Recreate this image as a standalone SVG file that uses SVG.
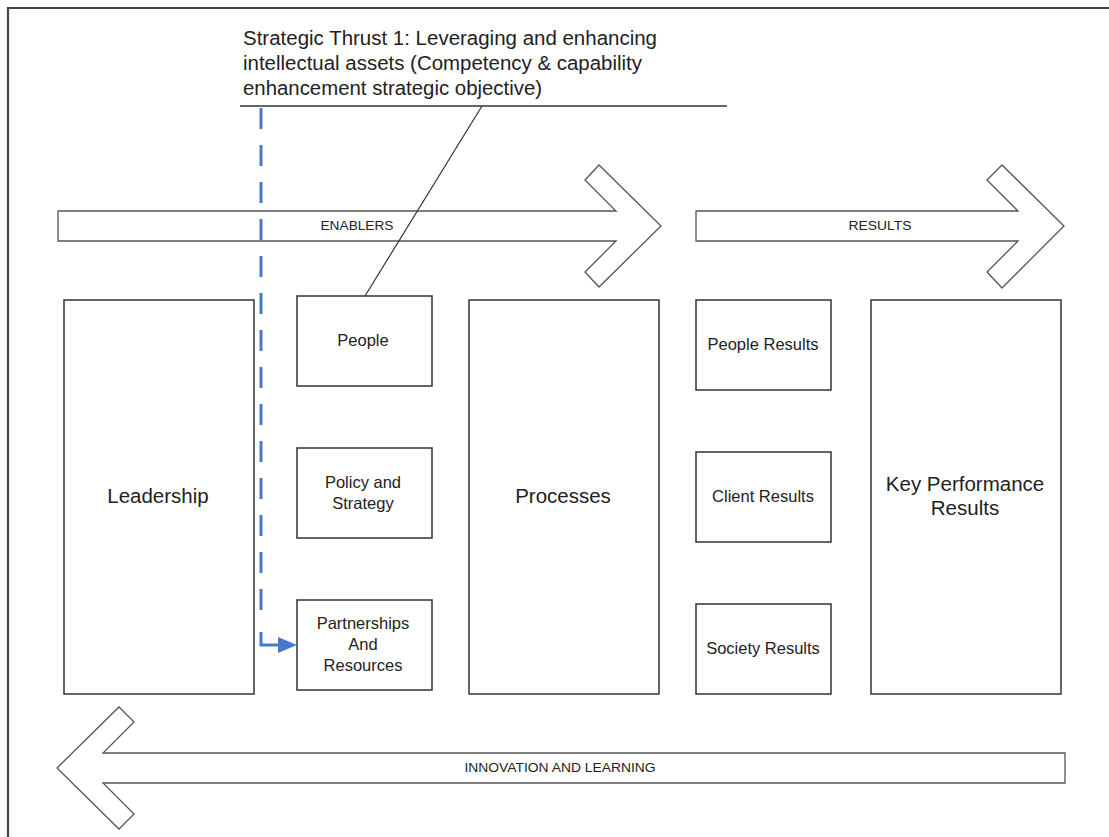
<svg xmlns="http://www.w3.org/2000/svg" width="1109" height="837" viewBox="0 0 1109 837">
<defs>
<style>
text{font-family:"Liberation Sans",Arial,sans-serif;fill:#222;text-anchor:middle}
.box{fill:#fff;stroke:#333;stroke-width:1.5}
.arr{fill:#fff;stroke:#555;stroke-width:1.3}
.sm{font-size:16.5px}
.lg{font-size:20.5px}
.al{font-size:13px}
.st{font-size:20px;text-anchor:start}
.blue{fill:none;stroke:#4a78c8;stroke-width:3}
</style>
</defs>
<rect width="1109" height="837" fill="#fff"/>
<path d="M8,837 V8 H1109" fill="none" stroke="#444" stroke-width="2.2"/>

<g id="enablers">
<polygon class="arr" points="58,211 616,211 585,180 599,165 661,226 599,287 585,272 616,241 58,241"/>
<text class="al" x="357" y="230" textLength="73" lengthAdjust="spacingAndGlyphs">ENABLERS</text>
</g>
<g id="results">
<polygon class="arr" points="696,211 1018,211 987,180 1002,165 1064,226 1002,288 987,272 1018,241 696,241"/>
<text class="al" x="880" y="230" textLength="63" lengthAdjust="spacingAndGlyphs">RESULTS</text>
</g>
<g id="innovation">
<polygon class="arr" points="1065,753 103,753 134,722 119,707 57,768 119,829 134,814 103,783 1065,783"/>
<text class="al" x="560" y="772" textLength="191" lengthAdjust="spacingAndGlyphs">INNOVATION AND LEARNING</text>
</g>

<g id="thrust">
<text class="st" x="243" y="45" textLength="414" lengthAdjust="spacingAndGlyphs">Strategic Thrust 1: Leveraging and enhancing</text>
<text class="st" x="243" y="70" textLength="399" lengthAdjust="spacingAndGlyphs">intellectual assets (Competency &amp; capability</text>
<text class="st" x="243" y="95" textLength="299" lengthAdjust="spacingAndGlyphs">enhancement strategic objective)</text>
<line x1="240" y1="106" x2="727" y2="106" stroke="#333" stroke-width="1.3"/>
</g>

<g id="leadership">
<rect class="box" x="64" y="300" width="190" height="394"/>
<text class="lg" x="158" y="503">Leadership</text>
</g>
<g id="people">
<rect class="box" x="297" y="296" width="135" height="90"/>
<text class="sm" x="363" y="346">People</text>
</g>
<g id="policy">
<rect class="box" x="297" y="448" width="135" height="90"/>
<text class="sm" x="363" y="488">Policy and</text>
<text class="sm" x="363" y="509">Strategy</text>
</g>
<g id="partnerships">
<rect class="box" x="297" y="600" width="135" height="90"/>
<text class="sm" x="363" y="629">Partnerships</text>
<text class="sm" x="363" y="650">And</text>
<text class="sm" x="363" y="671">Resources</text>
</g>
<g id="processes">
<rect class="box" x="469" y="300" width="190" height="394"/>
<text class="lg" x="563" y="503">Processes</text>
</g>
<g id="people-results">
<rect class="box" x="696" y="300" width="135" height="90"/>
<text class="sm" x="763" y="350">People Results</text>
</g>
<g id="client-results">
<rect class="box" x="696" y="452" width="135" height="90"/>
<text class="sm" x="763" y="502">Client Results</text>
</g>
<g id="society-results">
<rect class="box" x="696" y="604" width="135" height="90"/>
<text class="sm" x="763" y="654">Society Results</text>
</g>
<g id="kpr">
<rect class="box" x="871" y="300" width="190" height="394"/>
<text class="lg" x="965" y="491">Key Performance</text>
<text class="lg" x="965" y="515">Results</text>
</g>

<g id="connectors">
<line x1="482" y1="106" x2="365" y2="296" stroke="#333" stroke-width="1.2"/>
<path class="blue" d="M261,108 V620" stroke-dasharray="21,16"/>
<path class="blue" d="M261,632 V645 H281"/>
<path d="M278,637 L297,645 L278,653 Z" fill="#4a78c8"/>
</g>
</svg>
